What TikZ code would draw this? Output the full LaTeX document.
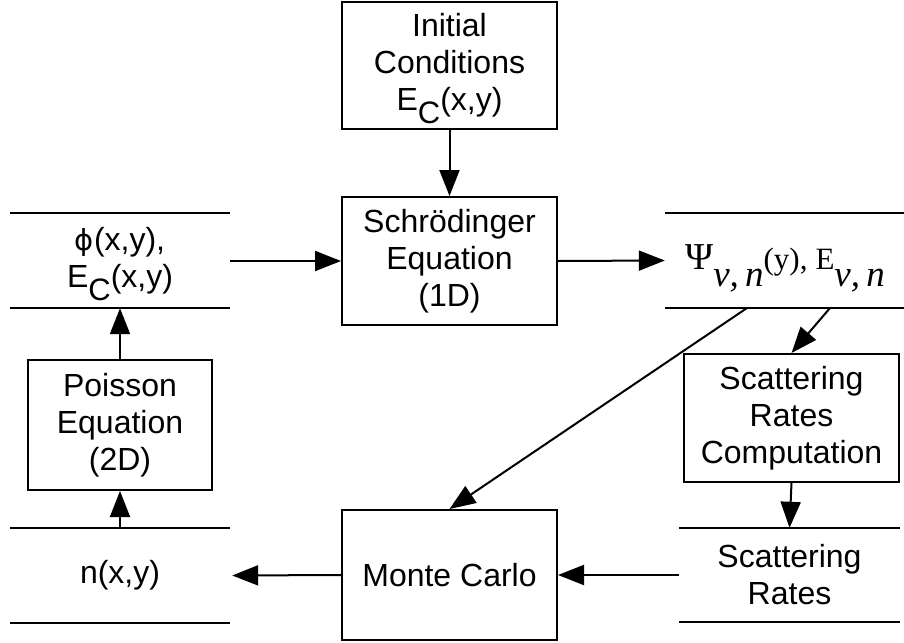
\documentclass[tikz,border=0pt]{standalone}
\usepackage{fontspec}
\setmainfont{Liberation Sans}
\newfontfamily\phifont{DejaVu Sans}
\newfontfamily\psifont{Liberation Serif}
\usetikzlibrary{arrows.meta,calc}
\newcommand{\ECsub}{E\raisebox{-13pt}[0pt][0pt]{\fontsize{31}{37}\selectfont C}}
\newcommand{\psisub}{\raisebox{-17pt}[0pt][0pt]{\fontsize{37}{37}\selectfont\itshape ν,\,n}}
\begin{document}
\begin{tikzpicture}[x=1pt,y=-1pt,
  every node/.style={font=\fontsize{32}{37}\selectfont, align=center, inner sep=0pt},
  procbox/.style={draw, line width=2pt, minimum width=215pt, minimum height=128pt},
  store/.style={minimum height=95pt},
  storeline/.style={line width=2.3pt},
  flow/.style={line width=2pt, -{Triangle[length=26pt,width=20pt]}}]
\useasboundingbox (0,0) rectangle (904,642);
% process boxes
\node[procbox, minimum height=127pt] (init) at (449.5,65.5) {Initial\\Conditions\\\ECsub(x,y)};
\node[procbox] (schr) at (449.5,261) {Schrödinger\\Equation\\(1D)};
\node[procbox, minimum width=184pt, minimum height=130pt] (poisson) at (120,425) {Poisson\\Equation\\(2D)};
\node[procbox, minimum height=130pt] (mc) at (449.5,575) {Monte Carlo};
\node[procbox] (src) at (791.5,418) {Scattering\\Rates\\Computation};
% data stores
\node[store, minimum width=220pt] (phi) at (120,260.5) {{\phifont\fontsize{29}{37}\selectfont ϕ}(x,y),\\\ECsub(x,y)};
\node[store, minimum width=240pt] (psi) at (785,260.5) {\psifont\fontsize{38}{37}\selectfont Ψ\psisub\fontsize{31}{37}\selectfont(y),\hspace{8pt}E\psisub};
\node[store, minimum width=220pt] (n) at (120,575.5) {n(x,y)};
\node[store, minimum width=221pt, minimum height=94pt] (sr) at (789.5,575) {Scattering\\Rates};
\foreach \s in {phi,psi,n,sr}{
  \draw[storeline] (\s.north west) -- (\s.north east);
  \draw[storeline] (\s.south west) -- (\s.south east);
}
% connectors
\coordinate (psiA) at (830,308);
\coordinate (psiB) at (747,308);
\draw[flow] (init.south) -- (schr.north);
\draw[flow] (phi.east |- schr.west) -- (schr.west);
\draw[flow] (schr.east) -- (psi.west);
\draw[flow] (poisson.north) -- (phi.south);
\draw[flow] (n.north) -- (poisson.south);
\draw[flow] (mc.west) -- ($(n.east)+(2,0)$);
\draw[flow] (sr.west) -- (mc.east);
\draw[flow] (psiA) -- (src.north);
\draw[flow] (src.south) -- (sr.north);
\draw[flow] (psiB) -- (mc.north);
\end{tikzpicture}
\end{document}
